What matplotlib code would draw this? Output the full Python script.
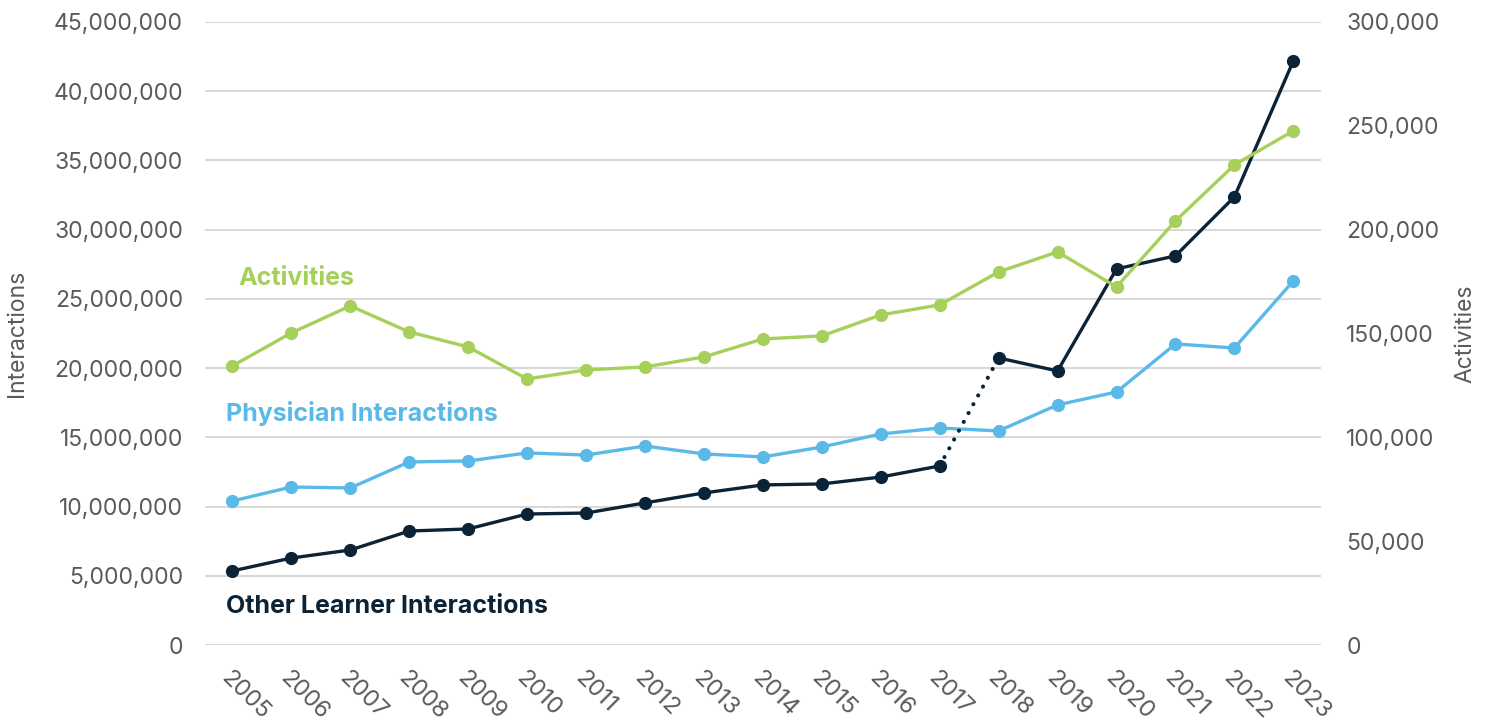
#!/usr/bin/env python3
"""Interactions and activities by year, two axes."""

import matplotlib
matplotlib.use("Agg")
import matplotlib.pyplot as plt
from matplotlib.ticker import FuncFormatter, MultipleLocator

YEARS = list(range(2005, 2024))

# left axis (interactions)
PHYSICIAN = [10.40e6, 11.41e6, 11.34e6, 13.22e6, 13.29e6, 13.87e6, 13.72e6,
             14.37e6, 13.80e6, 13.58e6, 14.30e6, 15.24e6, 15.67e6, 15.46e6,
             17.34e6, 18.27e6, 21.74e6, 21.45e6, 26.29e6]
OTHER_LEARNER = [5.35e6, 6.28e6, 6.86e6, 8.23e6, 8.38e6, 9.46e6, 9.53e6,
                 10.26e6, 10.98e6, 11.56e6, 11.63e6, 12.13e6, 12.93e6,
                 20.73e6, 19.79e6, 27.16e6, 28.10e6, 32.36e6, 42.18e6]

# right axis (activities)
ACTIVITIES = [134350, 150240, 163240, 150720, 143500, 128090, 132420,
              133870, 138680, 147350, 148800, 158910, 163720, 179610,
              189250, 172390, 204170, 231140, 247510]

# index where the dark series breaks (dotted between 2017 and 2018)
BREAK = YEARS.index(2018)

GREEN = "#a6d05a"
BLUE = "#5bb9e8"
NAVY = "#0b2337"
GREY_TEXT = "#5a5a5a"
GRID = "#d9d9d9"


def comma(x, pos):
    return f"{int(round(x)):,}"


def main():
    plt.rcParams["font.family"] = ["Inter", "DejaVu Sans"]

    fig = plt.figure(figsize=(14.88, 7.28), dpi=100)
    ax = fig.add_axes([0.138, 0.114, 0.750, 0.856])
    ax2 = ax.twinx()

    lw, ms = 2.4, 8.5

    ax.plot(YEARS, PHYSICIAN, "o-", color=BLUE, lw=lw, ms=ms)

    ax.plot(YEARS[:BREAK], OTHER_LEARNER[:BREAK], "o-", color=NAVY, lw=lw, ms=ms)
    ax.plot(YEARS[BREAK - 1:BREAK + 1], OTHER_LEARNER[BREAK - 1:BREAK + 1],
            color=NAVY, lw=3, linestyle=(0, (0.01, 2.4)),
            dash_capstyle="round")
    ax.plot(YEARS[BREAK:], OTHER_LEARNER[BREAK:], "o-", color=NAVY, lw=lw, ms=ms)

    ax2.plot(YEARS, ACTIVITIES, "o-", color=GREEN, lw=lw, ms=ms)

    ax.set_xlim(2005 - 0.458, 2023 + 0.475)
    ax.set_ylim(0, 45e6)
    ax2.set_ylim(0, 300000)
    ax.yaxis.set_major_locator(MultipleLocator(5e6))
    ax2.yaxis.set_major_locator(MultipleLocator(50000))
    ax.yaxis.set_major_formatter(FuncFormatter(comma))
    ax2.yaxis.set_major_formatter(FuncFormatter(comma))

    ax.set_xticks(YEARS)
    ax.set_xticklabels([str(y) for y in YEARS], rotation=-45, ha="left",
                       va="top", rotation_mode="anchor")

    for a in (ax, ax2):
        for s in a.spines.values():
            s.set_visible(False)
        a.tick_params(length=0, labelsize=16.5, labelcolor=GREY_TEXT)
    ax.tick_params(axis="x", pad=16, labelsize=17)
    ax.tick_params(axis="y", pad=16)
    ax2.tick_params(axis="y", pad=18)

    ax.grid(axis="y", color=GRID, lw=1.5)
    ax.set_axisbelow(True)

    ax.set_ylabel("Interactions", fontsize=16.5, color=GREY_TEXT, labelpad=18)
    ax2.set_ylabel("Activities", fontsize=16.5, color=GREY_TEXT, labelpad=11)

    # series labels
    ax.text(2005.1, 26.5e6, "Activities", color=GREEN, fontsize=18,
            fontweight="bold", ha="left", va="center")
    ax.text(2004.9, 16.7e6, "Physician Interactions", color=BLUE, fontsize=18,
            fontweight="bold", ha="left", va="center")
    ax.text(2004.9, 2.8e6, "Other Learner Interactions", color=NAVY,
            fontsize=18, fontweight="bold", ha="left", va="center")

    fig.savefig("out.png", dpi=100, facecolor="white")


if __name__ == "__main__":
    main()
